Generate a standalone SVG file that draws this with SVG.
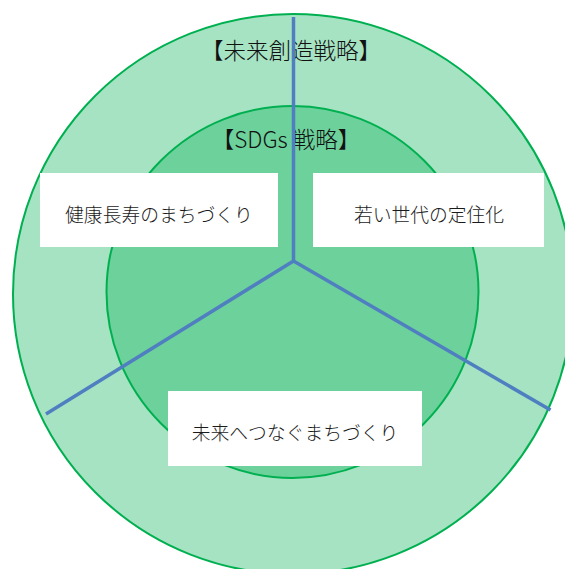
<svg xmlns="http://www.w3.org/2000/svg" width="565" height="569" viewBox="0 0 565 569">
<style>
.ring{stroke:#00b050;stroke-width:2}
.box{fill:#ffffff}
.lbl{font-family:"Noto Sans CJK JP","Noto Sans",sans-serif;font-size:18.8px;font-weight:300;fill:#1a1a1a;text-anchor:middle}
.head{font-family:"Noto Sans CJK JP","Noto Sans",sans-serif;font-weight:300;fill:#111111;text-anchor:middle}
.conn{stroke:#4f7fc0;stroke-width:3.5;fill:none;stroke-linecap:butt;stroke-linejoin:miter}
</style>
<rect width="565" height="569" fill="#ffffff"/>
<g id="outer-circle">
<circle class="ring" cx="293" cy="294" r="280" fill="#a6e3c3"/>
<text class="head" x="291" y="59" font-size="22.5">【未来創造戦略】</text>
</g>
<g id="inner-circle">
<circle class="ring" cx="292.5" cy="292" r="186" fill="#6dd19b"/>
<text class="head" x="286" y="148" font-size="22.5">【SDGs 戦略】</text>
</g>
<g id="connectors">
<polyline class="conn" points="293.5,17 293.5,261 46,414"/>
<line class="conn" x1="293.5" y1="261" x2="550.5" y2="410"/>
</g>
<g id="node-kenko">
<rect class="box" x="40" y="173" width="238" height="74"/>
<text class="lbl" x="159" y="222">健康長寿のまちづくり</text>
</g>
<g id="node-wakai">
<rect class="box" x="313" y="173" width="231" height="74"/>
<text class="lbl" x="429" y="222">若い世代の定住化</text>
</g>
<g id="node-mirai">
<rect class="box" x="168" y="391" width="254" height="75"/>
<text class="lbl" x="295" y="440">未来へつなぐまちづくり</text>
</g>
</svg>
